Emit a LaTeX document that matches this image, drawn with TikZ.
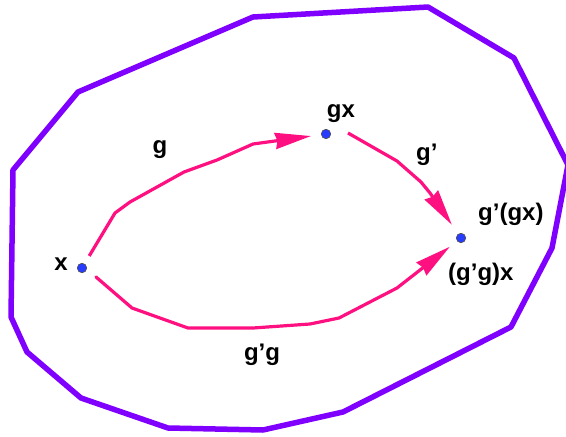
\documentclass[tikz,border=0pt]{standalone}
\usepackage{fontspec}
\setmainfont{Liberation Sans}
\usetikzlibrary{arrows.meta}
\definecolor{rim}{RGB}{128,0,255}
\definecolor{path}{RGB}{255,16,128}
\definecolor{ptfill}{RGB}{40,60,255}
\tikzset{
  rimline/.style={draw=rim,line width=5.5pt,line join=round},
  conn/.style={draw=path,line width=3.2pt,line join=round,-{Stealth[length=36pt,width=16pt,inset=2pt]}},
  dot/.style={circle,fill=ptfill,draw=black!70,line width=0.6pt,inner sep=0pt,minimum size=9.5pt},
  lbl/.style={font=\fontsize{24}{28}\selectfont\bfseries,inner sep=0pt}
}
\begin{document}
\begin{tikzpicture}[x=1pt,y=-1pt]
\useasboundingbox (0,0) rectangle (566,437);
\begin{scope}
\clip (0,0) rectangle (566,437);
\draw[rimline] (253,17) -- (428,7) -- (514,58) -- (568,165) -- (552,248) -- (511,327)
  -- (343,412) -- (263,430) -- (168,428) -- (81,398) -- (27,352) -- (11,317)
  -- (13,170) -- (78,92) -- cycle;
\end{scope}
\node[dot] (x) at (82,268) {};
\node[dot] (gx) at (326,134) {};
\node[dot] (t) at (461,238) {};
\draw[conn,shorten <=9pt,shorten >=10pt] (x) -- (115,213) -- (130,202) -- (184,172) -- (217,160) -- (253,144) -- (gx);
\draw[conn,shorten >=11pt] ([shift={(22,-1)}]gx.center) -- (397,161) -- (421,182) -- (430,193) -- (t);
\draw[conn,shorten <=12pt,shorten >=9pt] (x) -- (96,277) -- (132,308) -- (188,328) -- (253,328) -- (310,324) -- (339,318) -- (397,288) -- (t);
\node[lbl,anchor=base] (lx) at (61,270) {x};
\node[lbl,anchor=base] (lgx) at (341,117) {gx};
\node[lbl,anchor=base] (lg) at (160,153) {g};
\node[lbl,anchor=base west] (lgp) at (416,160) {g’};
\node[lbl,anchor=base west] (lgpgx) at (478,220) {g’(gx)};
\node[lbl,anchor=base west] (lgpg) at (448,280) {(g’g)x};
\node[lbl,anchor=base] (lgg) at (262,360) {g’g};
\end{tikzpicture}
\end{document}
